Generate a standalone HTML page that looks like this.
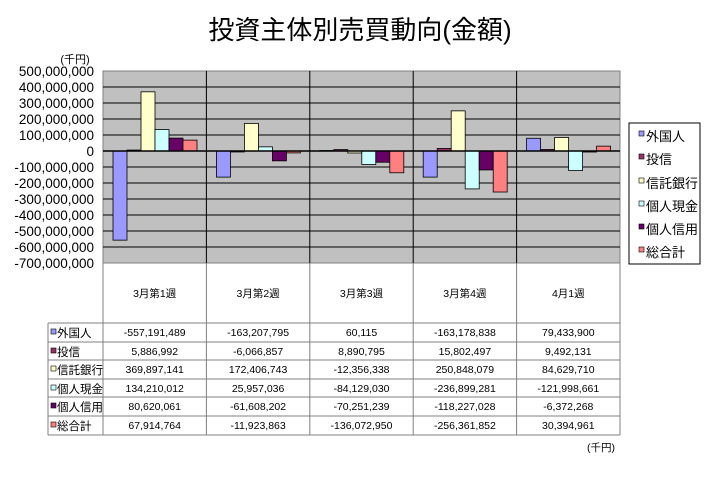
<!DOCTYPE html>
<html><head><meta charset="utf-8"><style>
body{margin:0;background:#fff}
svg text{font-family:"Liberation Sans","Noto Sans CJK JP",sans-serif}
</style></head><body>
<svg width="724" height="479" viewBox="0 0 724 479" xmlns="http://www.w3.org/2000/svg">
<text x="360" y="39" font-size="26" text-anchor="middle">投資主体別売買動向(金額)</text>
<text x="75" y="63" font-size="11" text-anchor="middle">(千円)</text>
<rect x="103" y="71" width="517" height="192" fill="#c0c0c0" stroke="#808080"/>
<g stroke="#000" stroke-width="1">
<line x1="103" x2="620" y1="87" y2="87"/><line x1="103" x2="620" y1="103" y2="103"/><line x1="103" x2="620" y1="119" y2="119"/><line x1="103" x2="620" y1="135" y2="135"/><line x1="103" x2="620" y1="167" y2="167"/><line x1="103" x2="620" y1="183" y2="183"/><line x1="103" x2="620" y1="199" y2="199"/><line x1="103" x2="620" y1="215" y2="215"/><line x1="103" x2="620" y1="231" y2="231"/><line x1="103" x2="620" y1="247" y2="247"/>
<line x1="206.4" x2="206.4" y1="71" y2="263"/><line x1="309.8" x2="309.8" y1="71" y2="263"/><line x1="413.2" x2="413.2" y1="71" y2="263"/><line x1="516.6" x2="516.6" y1="71" y2="263"/>
</g>
<g font-size="13.5" text-anchor="end">
<text x="94" y="76">500,000,000</text><text x="94" y="92">400,000,000</text><text x="94" y="108">300,000,000</text><text x="94" y="124">200,000,000</text><text x="94" y="140">100,000,000</text><text x="94" y="156">0</text><text x="94" y="172">-100,000,000</text><text x="94" y="188">-200,000,000</text><text x="94" y="204">-300,000,000</text><text x="94" y="220">-400,000,000</text><text x="94" y="236">-500,000,000</text><text x="94" y="252">-600,000,000</text><text x="94" y="268">-700,000,000</text>
</g>
<g stroke="#000" stroke-width="0.8">
<rect x="113" y="151" width="14" height="89.15" fill="#9999ff"/>
<rect x="127" y="150.06" width="14" height="0.94" fill="#993366"/>
<rect x="141" y="91.82" width="14" height="59.18" fill="#ffffcc"/>
<rect x="155" y="129.53" width="14" height="21.47" fill="#ccffff"/>
<rect x="169" y="138.1" width="14" height="12.9" fill="#660066"/>
<rect x="183" y="140.13" width="14" height="10.87" fill="#ff8080"/>
<rect x="216.4" y="151" width="14" height="26.11" fill="#9999ff"/>
<rect x="230.4" y="151" width="14" height="0.97" fill="#993366"/>
<rect x="244.4" y="123.41" width="14" height="27.59" fill="#ffffcc"/>
<rect x="258.4" y="146.85" width="14" height="4.15" fill="#ccffff"/>
<rect x="272.4" y="151" width="14" height="9.86" fill="#660066"/>
<rect x="286.4" y="151" width="14" height="1.91" fill="#ff8080"/>
<rect x="319.8" y="150.5" width="14" height="0.5" fill="#9999ff"/>
<rect x="333.8" y="149.58" width="14" height="1.42" fill="#993366"/>
<rect x="347.8" y="151" width="14" height="1.98" fill="#ffffcc"/>
<rect x="361.8" y="151" width="14" height="13.46" fill="#ccffff"/>
<rect x="375.8" y="151" width="14" height="11.24" fill="#660066"/>
<rect x="389.8" y="151" width="14" height="21.77" fill="#ff8080"/>
<rect x="423.2" y="151" width="14" height="26.11" fill="#9999ff"/>
<rect x="437.2" y="148.47" width="14" height="2.53" fill="#993366"/>
<rect x="451.2" y="110.86" width="14" height="40.14" fill="#ffffcc"/>
<rect x="465.2" y="151" width="14" height="37.9" fill="#ccffff"/>
<rect x="479.2" y="151" width="14" height="18.92" fill="#660066"/>
<rect x="493.2" y="151" width="14" height="41.02" fill="#ff8080"/>
<rect x="526.6" y="138.29" width="14" height="12.71" fill="#9999ff"/>
<rect x="540.6" y="149.48" width="14" height="1.52" fill="#993366"/>
<rect x="554.6" y="137.46" width="14" height="13.54" fill="#ffffcc"/>
<rect x="568.6" y="151" width="14" height="19.52" fill="#ccffff"/>
<rect x="582.6" y="151" width="14" height="1.02" fill="#660066"/>
<rect x="596.6" y="146.14" width="14" height="4.86" fill="#ff8080"/>
</g>
<line x1="103" x2="620" y1="151" y2="151" stroke="#000" stroke-width="1.5"/>
<rect x="629" y="123" width="71" height="141" fill="#fff" stroke="#000"/>
<g stroke="#000" stroke-width="0.6">
<rect x="639" y="131" width="5" height="5" fill="#9999ff"/>
<rect x="639" y="154" width="5" height="5" fill="#993366"/>
<rect x="639" y="178" width="5" height="5" fill="#ffffcc"/>
<rect x="639" y="201" width="5" height="5" fill="#ccffff"/>
<rect x="639" y="224" width="5" height="5" fill="#660066"/>
<rect x="639" y="247" width="5" height="5" fill="#ff8080"/>
</g>
<g font-size="13">
<text x="646" y="141">外国人</text><text x="646" y="164">投信</text><text x="646" y="188">信託銀行</text><text x="646" y="211">個人現金</text><text x="646" y="234">個人信用</text><text x="646" y="257">総合計</text>
</g>
<g stroke="#808080" stroke-width="1" fill="none">
<line x1="103" x2="103" y1="263" y2="435"/><line x1="206.4" x2="206.4" y1="263" y2="435"/><line x1="309.8" x2="309.8" y1="263" y2="435"/><line x1="413.2" x2="413.2" y1="263" y2="435"/><line x1="516.6" x2="516.6" y1="263" y2="435"/><line x1="620" x2="620" y1="263" y2="435"/>
<line x1="48" x2="48" y1="323" y2="435"/>
<line x1="48" x2="620" y1="323" y2="323"/><line x1="48" x2="620" y1="342" y2="342"/><line x1="48" x2="620" y1="360" y2="360"/><line x1="48" x2="620" y1="379" y2="379"/><line x1="48" x2="620" y1="397" y2="397"/><line x1="48" x2="620" y1="416" y2="416"/><line x1="48" x2="620" y1="435" y2="435"/>
</g>
<g font-size="10.5" text-anchor="middle">
<text x="154.7" y="297">3月第1週</text><text x="258.1" y="297">3月第2週</text><text x="361.5" y="297">3月第3週</text><text x="464.9" y="297">3月第4週</text><text x="568.3" y="297">4月1週</text>
<text x="154.7" y="336">-557,191,489</text><text x="258.1" y="336">-163,207,795</text><text x="361.5" y="336">60,115</text><text x="464.9" y="336">-163,178,838</text><text x="568.3" y="336">79,433,900</text>
<text x="154.7" y="355">5,886,992</text><text x="258.1" y="355">-6,066,857</text><text x="361.5" y="355">8,890,795</text><text x="464.9" y="355">15,802,497</text><text x="568.3" y="355">9,492,131</text>
<text x="154.7" y="373">369,897,141</text><text x="258.1" y="373">172,406,743</text><text x="361.5" y="373">-12,356,338</text><text x="464.9" y="373">250,848,079</text><text x="568.3" y="373">84,629,710</text>
<text x="154.7" y="392">134,210,012</text><text x="258.1" y="392">25,957,036</text><text x="361.5" y="392">-84,129,030</text><text x="464.9" y="392">-236,899,281</text><text x="568.3" y="392">-121,998,661</text>
<text x="154.7" y="410">80,620,061</text><text x="258.1" y="410">-61,608,202</text><text x="361.5" y="410">-70,251,239</text><text x="464.9" y="410">-118,227,028</text><text x="568.3" y="410">-6,372,268</text>
<text x="154.7" y="429">67,914,764</text><text x="258.1" y="429">-11,923,863</text><text x="361.5" y="429">-136,072,950</text><text x="464.9" y="429">-256,361,852</text><text x="568.3" y="429">30,394,961</text>
</g>
<g stroke="#000" stroke-width="0.6">
<rect x="51" y="329" width="5" height="5" fill="#9999ff"/>
<rect x="51" y="348" width="5" height="5" fill="#993366"/>
<rect x="51" y="366" width="5" height="5" fill="#ffffcc"/>
<rect x="51" y="385" width="5" height="5" fill="#ccffff"/>
<rect x="51" y="403" width="5" height="5" fill="#660066"/>
<rect x="51" y="422" width="5" height="5" fill="#ff8080"/>
</g>
<g font-size="11.5">
<text x="57" y="337">外国人</text><text x="57" y="356">投信</text><text x="57" y="374">信託銀行</text><text x="57" y="393">個人現金</text><text x="57" y="411">個人信用</text><text x="57" y="430">総合計</text>
</g>
<text x="601" y="451" font-size="10.5" text-anchor="middle">(千円)</text>
</svg>
</body></html>
